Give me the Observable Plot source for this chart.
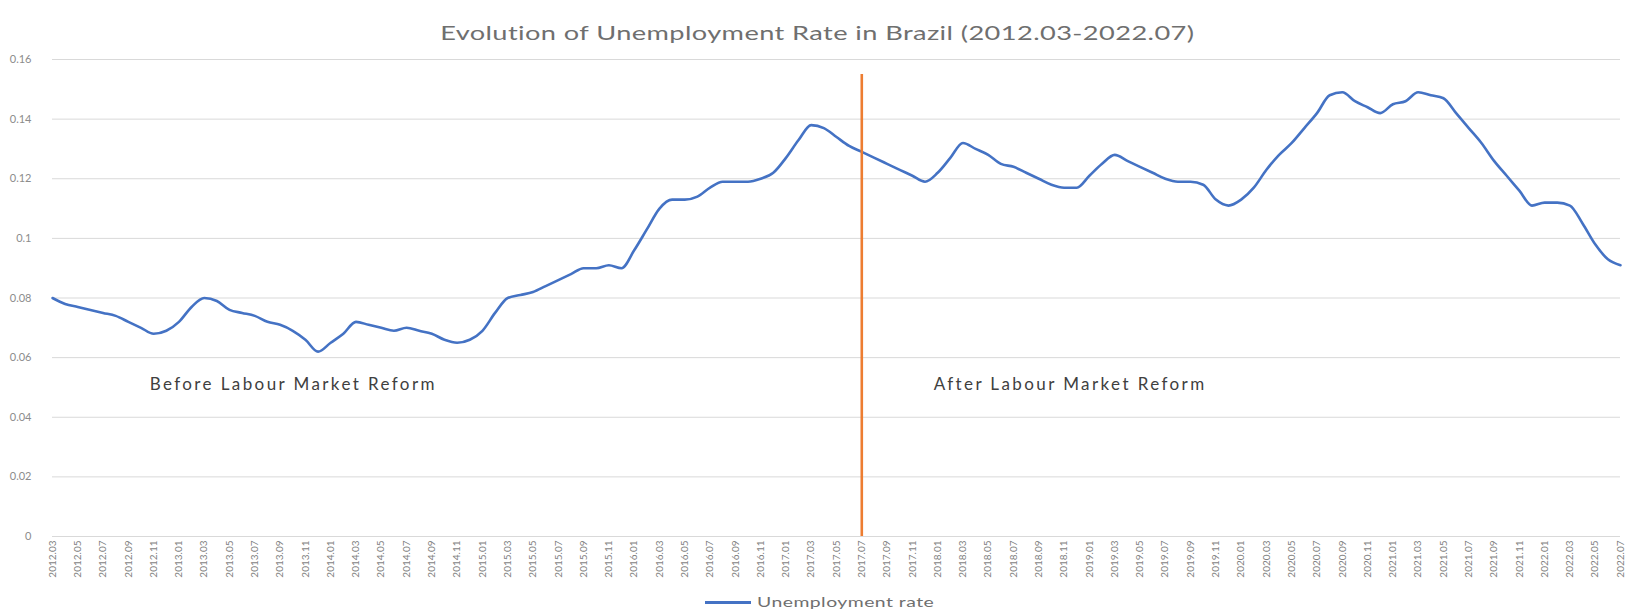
<!DOCTYPE html>
<html>
<head>
<meta charset="utf-8">
<script src="https://cdn.jsdelivr.net/npm/d3@7"></script>
<script src="https://cdn.jsdelivr.net/npm/@observablehq/plot@0.6"></script>
<style>
  html, body { margin: 0; padding: 0; background: #fff; }
  body { width: 1646px; height: 616px; position: relative; overflow: hidden; font-family: Lato, "Open Sans", sans-serif; }
  #title { height: 50px; line-height: 64px; text-align: center; color: #6f6f6f; font-size: 20px; white-space: nowrap; }
  #title span { display: inline-block; transform: scaleX(1.36); position: relative; left: -6px; letter-spacing: 0.3px; }
  #chart svg { display: block; }
  #legend { position: absolute; left: 705px; top: 593px; height: 18px; display: flex; align-items: center; color: #6f6f6f; font-size: 12.5px; }
  #legend .sw { width: 46px; height: 3px; background: #4472C4; margin-right: 6px; }
  #legend .lbl { display: inline-block; transform: scaleX(1.55); transform-origin: left center; letter-spacing: 0.3px; }
</style>
</head>
<body>
<div id="title"><span>Evolution of Unemployment Rate in Brazil (2012.03-2022.07)</span></div>
<div id="chart"></div>
<div id="legend"><div class="sw"></div><span class="lbl">Unemployment rate</span></div>
<script>
// Categories: monthly, 2012.03 .. 2022.07
const months = [];
for (let y = 2012; y <= 2022; y++) {
  for (let m = 1; m <= 12; m++) {
    if ((y === 2012 && m < 3) || (y === 2022 && m > 7)) continue;
    months.push(`${y}.${String(m).padStart(2, "0")}`);
  }
}

// Unemployment rate
const rates = [
  // 2012.03 - 2012.12
  0.080, 0.078, 0.077, 0.076, 0.075, 0.074, 0.072, 0.070, 0.068, 0.069,
  // 2013
  0.072, 0.077, 0.080, 0.079, 0.076, 0.075, 0.074, 0.072, 0.071, 0.069, 0.066, 0.062,
  // 2014
  0.065, 0.068, 0.072, 0.071, 0.070, 0.069, 0.070, 0.069, 0.068, 0.066, 0.065, 0.066,
  // 2015
  0.069, 0.075, 0.080, 0.081, 0.082, 0.084, 0.086, 0.088, 0.090, 0.090, 0.091, 0.090,
  // 2016
  0.096, 0.103, 0.110, 0.113, 0.113, 0.114, 0.117, 0.119, 0.119, 0.119, 0.120, 0.122,
  // 2017
  0.127, 0.133, 0.138, 0.137, 0.134, 0.131, 0.129, 0.127, 0.125, 0.123, 0.121, 0.119,
  // 2018
  0.122, 0.127, 0.132, 0.130, 0.128, 0.125, 0.124, 0.122, 0.120, 0.118, 0.117, 0.117,
  // 2019
  0.121, 0.125, 0.128, 0.126, 0.124, 0.122, 0.120, 0.119, 0.119, 0.118, 0.113, 0.111,
  // 2020
  0.113, 0.117, 0.123, 0.128, 0.132, 0.137, 0.142, 0.148, 0.149, 0.146, 0.144, 0.142,
  // 2021
  0.145, 0.146, 0.149, 0.148, 0.147, 0.142, 0.137, 0.132, 0.126, 0.121, 0.116, 0.111,
  // 2022.01 - 2022.07
  0.112, 0.112, 0.111, 0.105, 0.098, 0.093, 0.091
];

// Tick labels: every other month
const xTickLabels = months.filter((d, i) => i % 2 === 0);
const yTicks = [0, 0.02, 0.04, 0.06, 0.08, 0.10, 0.12, 0.14, 0.16];

const reformMonth = ["2017.07"];
const reformTop = 0.155;

const annotationText = ["Before Labour Market Reform", "After Labour Market Reform"];
const annotationMonth = ["2012.11", "2018.01"];
const annotationValue = [0.051, 0.051];

const data = months.map((m, i) => ({month: m, rate: rates[i]}));
const annotations = annotationText.map((t, i) => ({text: t, month: annotationMonth[i], value: annotationValue[i]}));

const chart = Plot.plot({
  width: 1646,
  height: 540,
  marginLeft: 52,
  marginRight: 26,
  marginTop: 9,
  marginBottom: 54,
  style: {fontFamily: "Lato, 'Open Sans', sans-serif", background: "#fff", color: "#595959"},
  x: {
    type: "point",
    domain: months,
    padding: 0,
    ticks: xTickLabels,
    tickRotate: -90,
    tickSize: 0,
    tickPadding: 4,
    label: null
  },
  y: {
    domain: [0, 0.16],
    ticks: yTicks,
    tickFormat: d => String(+d.toFixed(2)),
    tickSize: 0,
    tickPadding: 21,
    label: null
  },
  marks: [
    Plot.ruleY(yTicks, {stroke: "#d9d9d9", strokeWidth: 1}),
    Plot.line(data, {x: "month", y: "rate", stroke: "#4472C4", strokeWidth: 2.6, curve: "monotone-x"}),
    Plot.ruleX(reformMonth, {y1: 0, y2: reformTop, stroke: "#ED7D31", strokeWidth: 2.6}),
    Plot.text(annotations, {x: "month", y: "value", text: "text", textAnchor: "start", dx: -4, fontSize: 17, fill: "#404040"})
  ]
});

document.getElementById("chart").appendChild(chart);

// Styling of axis text (font sizes)
const svg = d3.select(chart);
svg.selectAll("g[aria-label='x-axis tick label'] text").attr("font-size", 10).attr("fill", "#7f7f7f");
svg.selectAll("g[aria-label='y-axis tick label'] text").attr("font-size", 11).attr("fill", "#8c8c8c");
svg.selectAll("g[aria-label='text'] text").attr("letter-spacing", "2.4px");
</script>
</body>
</html>
